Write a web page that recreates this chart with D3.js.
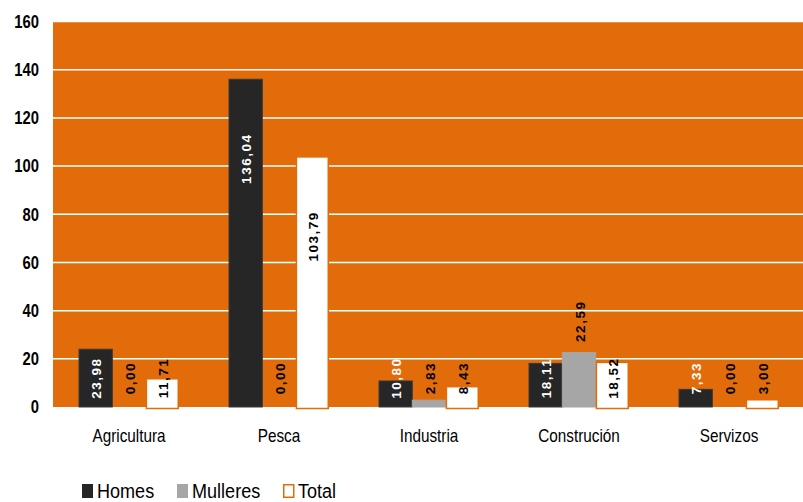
<!DOCTYPE html>
<html><head><meta charset="utf-8">
<script src="https://cdn.jsdelivr.net/npm/d3@7"></script>
<style>
body{margin:0;background:#fff;}
svg{display:block;}
</style></head>
<body>
<svg id="chart" width="803" height="502"></svg>
<script>
const categories = ["Agricultura","Pesca","Industria","Construción","Servizos"];
const seriesNames = ["Homes","Mulleres","Total"];
const homes = [23.98,136.04,10.80,18.11,7.33];
const mulleres = [0.00,0.00,2.83,22.59,0.00];
const total = [11.71,103.79,8.43,18.52,3.00];
const yTicks = [0,20,40,60,80,100,120,140,160];
const seriesValues = [homes, mulleres, total];

const svg = d3.select("#chart");
const margin = {left:53, right:0, top:21.5, bottom:95};
const W = 803, H = 502;
const x0 = d3.scaleBand().domain(categories).range([margin.left + 1, W - margin.right + 1]).paddingInner(1/3).paddingOuter(1/6);
const x1 = d3.scaleBand().domain(seriesNames).range([0, x0.bandwidth()]);
const y = d3.scaleLinear().domain([0,160]).range([H - margin.bottom, margin.top]);

const orange = "#E36C0A";
const narrow = 0.8;
svg.append("rect").attr("x", margin.left).attr("y", y(160)).attr("width", W - margin.left - margin.right).attr("height", y(0)-y(160)).attr("fill", orange);

svg.append("g").selectAll("line").data(yTicks.filter(d=>d>0)).join("line")
  .attr("x1", margin.left).attr("x2", W).attr("y1", d=>y(d)).attr("y2", d=>y(d))
  .attr("stroke","#fff").attr("stroke-width",1.5);

const yAxis = d3.axisLeft(y).tickValues(yTicks).tickSize(0).tickPadding(14);
const ya = svg.append("g").attr("transform",`translate(${margin.left},0)`).call(yAxis);
ya.select(".domain").remove();
ya.selectAll("text").attr("x", -14/narrow).attr("transform",`scale(${narrow},1)`)
  .attr("font-family","'Liberation Sans',Arial,sans-serif").attr("font-weight","bold").attr("font-size",18.5).attr("fill","#000");

const fills = {Homes:"#262626", Mulleres:"#A6A6A6", Total:"#ffffff"};
const strokes = {Homes:"#3a3a3a", Mulleres:"#A6A6A6", Total:orange};
const data = [];
categories.forEach((c,i)=>seriesNames.forEach((s,j)=>data.push({c, s, v: seriesValues[j][i]})));

svg.append("g").selectAll("rect").data(data.filter(d=>d.v>0)).join("rect")
  .attr("x", d=>x0(d.c)+x1(d.s)+(d.s==="Total"?0.75:0))
  .attr("y", d=>y(d.v))
  .attr("width", d=>x1.bandwidth()-(d.s==="Total"?1.5:0))
  .attr("height", d=>y(0)-y(d.v)+(d.s==="Total"?1.5:0))
  .attr("fill", d=>fills[d.s])
  .attr("stroke", d=>strokes[d.s])
  .attr("stroke-width", d=>d.s==="Total"?1.5:1);

function labelCenter(d){
  if (d.v > 50) return d.v - 33;
  if (d.s === "Mulleres" && d.v > 20) return d.v + 13;
  return 12;
}
const fmt = v => v.toFixed(2).replace(".", ",");
svg.append("g").selectAll("text").data(data).join("text")
  .attr("transform", d=>`translate(${x0(d.c)+x1(d.s)+x1.bandwidth()/2+1},${y(labelCenter(d))}) rotate(-90)`)
  .attr("text-anchor","middle").attr("dominant-baseline","central")
  .attr("font-family","'Liberation Sans',Arial,sans-serif").attr("font-weight","bold").attr("font-size",13.5)
  .attr("letter-spacing",1.5)
  .attr("fill", d=>d.s==="Homes"?"#fff":"#000")
  .text(d=>fmt(d.v));

const xAxis = d3.axisBottom(x0).tickSize(0).tickPadding(22);
const xa = svg.append("g").attr("transform",`translate(0,${y(0)})`).call(xAxis);
xa.select(".domain").remove();
xa.selectAll("text").attr("transform","scale(0.85,1)")
  .attr("font-family","'Liberation Sans',Arial,sans-serif").attr("font-size",18).attr("fill","#000");

const legendX = [82, 177, 283];
const ls = 0.86;
const lg = svg.append("g").selectAll("g").data(seriesNames).join("g")
  .attr("transform",(d,i)=>`translate(${legendX[i]},484)`);
lg.append("rect").attr("x",d=>d==="Total"?0.75:0).attr("y",d=>d==="Total"?0.75:0)
  .attr("width",d=>d==="Total"?10:11).attr("height",d=>d==="Total"?12.5:14)
  .attr("fill",d=>fills[d]).attr("stroke",d=>d==="Total"?orange:"none").attr("stroke-width",1.5);
lg.append("text").attr("x",15/ls).attr("y",14).attr("transform",`scale(${ls},1)`)
  .attr("font-family","'Liberation Sans',Arial,sans-serif").attr("font-size",21).attr("fill","#000")
  .text(d=>d);
</script>
</body></html>
